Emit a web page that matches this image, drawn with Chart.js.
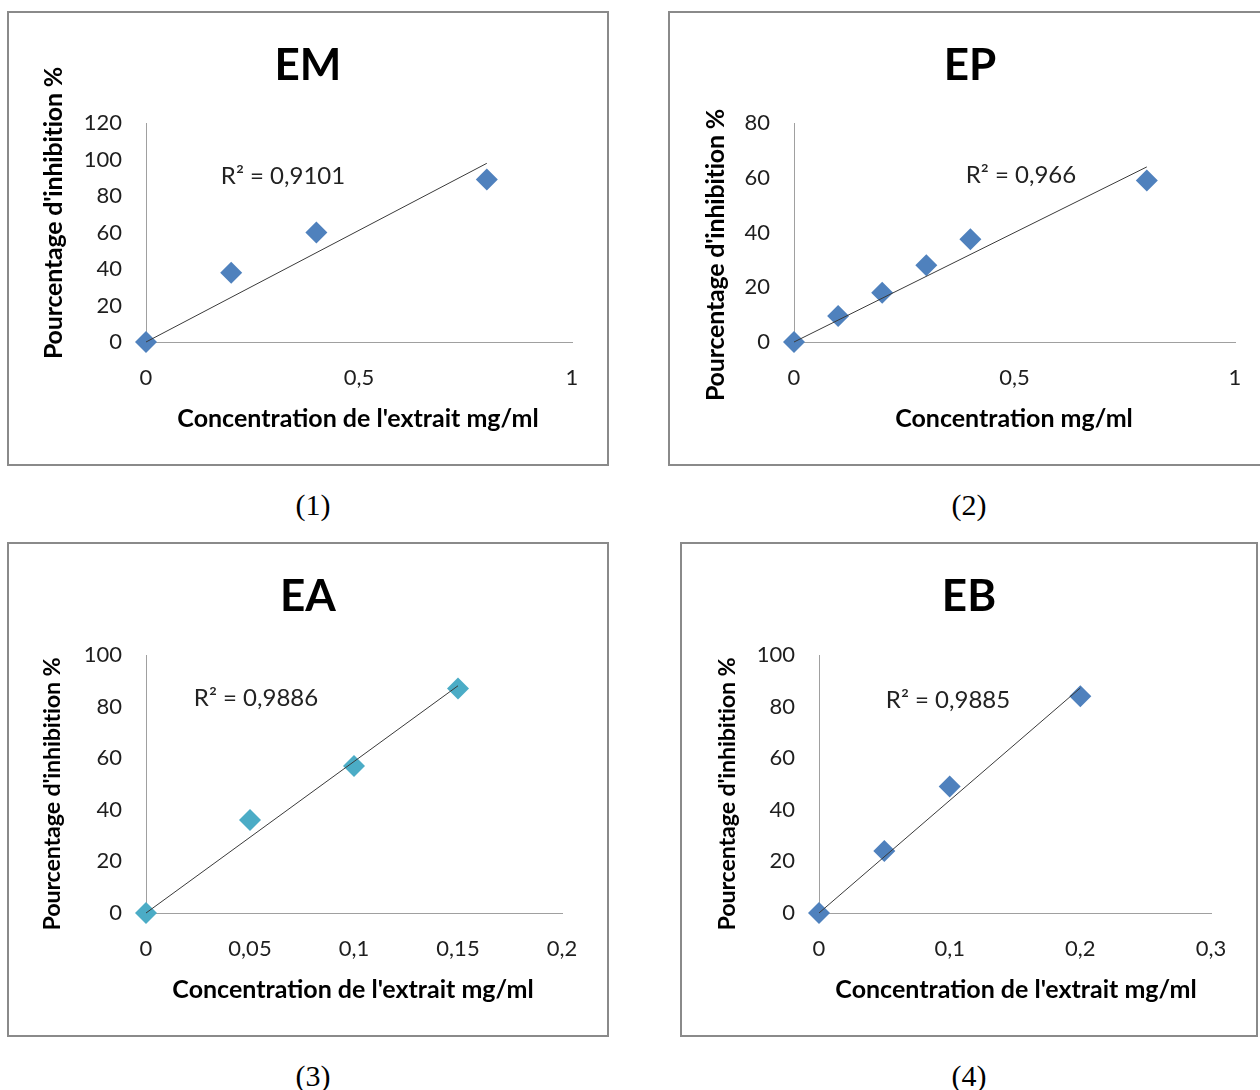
<!DOCTYPE html>
<html><head><meta charset="utf-8">
<script src="https://cdn.jsdelivr.net/npm/chart.js@4.4.0/dist/chart.umd.min.js"></script>
<style>
html,body{margin:0;padding:0;background:#fff;width:1260px;height:1090px;overflow:hidden;position:relative;font-family:Lato,sans-serif;}
.box{position:absolute;border:2px solid #8a8a8a;box-sizing:border-box;pointer-events:none;}
canvas{position:absolute;}
.t{position:absolute;white-space:nowrap;transform:translate(-50%,-50%);color:#000;line-height:1;}
.title{font-weight:bold;font-size:44px;}
.xt{font-weight:bold;font-size:25px;}
.yt{font-weight:bold;font-size:25px;letter-spacing:-0.2px;transform:translate(-50%,-50%) rotate(-90deg);}
.r2{font-size:24px;color:#222;}
.cap{font-family:"Liberation Serif",serif;font-size:30px;}
</style></head><body>
<script>
// ---- data ----
const emX = [0, 0.2, 0.4, 0.8];
const emY = [0, 38, 60, 89];
const epX = [0, 0.1, 0.2, 0.3, 0.4, 0.8];
const epY = [0, 9.5, 18, 28, 37.5, 59];
const eaX = [0, 0.05, 0.1, 0.15];
const eaY = [0, 36, 57, 87];
const ebX = [0, 0.05, 0.1, 0.2];
const ebY = [0, 24, 49, 84];

const emXTicks = [0, 0.5, 1];
const emYTicks = [0, 20, 40, 60, 80, 100, 120];
const epXTicks = [0, 0.5, 1];
const epYTicks = [0, 20, 40, 60, 80];
const eaXTicks = [0, 0.05, 0.1, 0.15, 0.2];
const eaYTicks = [0, 20, 40, 60, 80, 100];
const ebXTicks = [0, 0.1, 0.2, 0.3];
const ebYTicks = [0, 20, 40, 60, 80, 100];

const titles = ['EM', 'EP', 'EA', 'EB'];
const r2Labels = ['R² = 0,9101', 'R² = 0,966', 'R² = 0,9886', 'R² = 0,9885'];
const xTitles = ["Concentration de l'extrait mg/ml", 'Concentration mg/ml', "Concentration de l'extrait mg/ml", "Concentration de l'extrait mg/ml"];
const yTitle = "Pourcentage d'inhibition %";
const captions = ['(1)', '(2)', '(3)', '(4)'];

// ---- layout (page pixels) ----
const panels = [
  {xs: emX, ys: emY, xt: emXTicks, yt: emYTicks, color: '#4F81BD',
   box: [7, 11, 602, 455], area: [146, 123, 572, 342],
   title: [308, 63], r2: [283, 175], xTitle: [358, 417], yTitle: [52, 213, 25], cap: [313, 505]},
  {xs: epX, ys: epY, xt: epXTicks, yt: epYTicks, color: '#4F81BD',
   box: [668, 11, 600, 455], area: [794, 123, 1235, 342],
   title: [970, 63], r2: [1021, 174], xTitle: [1014, 417], yTitle: [714, 255, 25], cap: [969, 505]},
  {xs: eaX, ys: eaY, xt: eaXTicks, yt: eaYTicks, color: '#4BACC6',
   box: [7, 542, 602, 495], area: [146, 655, 562, 913],
   title: [308, 594], r2: [256, 697], xTitle: [353, 988], yTitle: [52, 794, 23.4], cap: [313, 1076]},
  {xs: ebX, ys: ebY, xt: ebXTicks, yt: ebYTicks, color: '#4F81BD',
   box: [680, 542, 578, 495], area: [819, 655, 1211, 913],
   title: [969, 594], r2: [948, 699], xTitle: [1016, 988], yTitle: [727, 794, 23.4], cap: [969, 1076]}
];

function addText(cls, txt, x, y, extra) {
  const d = document.createElement('div');
  d.className = 't ' + cls;
  d.textContent = txt;
  d.style.left = x + 'px';
  d.style.top = y + 'px';
  if (extra) Object.assign(d.style, extra);
  document.body.appendChild(d);
}

const fmt = v => String(+v.toFixed(4)).replace('.', ',');

panels.forEach((p, i) => {
  const [bx, by, bw, bh] = p.box;
  const [al, at, ar, ab] = p.area;
  const cv = document.createElement('canvas');
  cv.width = bw; cv.height = bh;
  cv.style.left = bx + 'px'; cv.style.top = by + 'px';
  cv.style.width = bw + 'px'; cv.style.height = bh + 'px';
  document.body.appendChild(cv);

  const pts = p.xs.map((x, k) => ({x, y: p.ys[k]}));
  // least-squares trend line forced through the origin
  let sxy = 0, sxx = 0;
  p.xs.forEach((x, k) => { sxy += x * p.ys[k]; sxx += x * x; });
  const slope = sxy / sxx;
  const xMaxData = Math.max(...p.xs);
  const trend = [{x: 0, y: 0}, {x: xMaxData, y: slope * xMaxData}];

  const tickFont = {family: 'Lato', size: 22};
  new Chart(cv, {
    type: 'scatter',
    data: {datasets: [
      {data: trend, showLine: true, pointRadius: 0, borderColor: '#3a3a3a', borderWidth: 1, order: 0, clip: false},
      {data: pts, pointStyle: 'rectRot', pointRadius: 11, pointHoverRadius: 11,
       backgroundColor: p.color, borderColor: p.color, borderWidth: 0, order: 1, clip: false}
    ]},
    options: {
      responsive: false, animation: false, devicePixelRatio: 1,
      layout: {padding: {left: 0, top: at - by, right: (bx + bw) - ar, bottom: 0}},
      plugins: {legend: {display: false}, tooltip: {enabled: false}},
      scales: {
        x: {
          type: 'linear', min: p.xt[0], max: p.xt[p.xt.length - 1],
          grid: {display: false, drawTicks: false},
          border: {display: true, color: '#a0a0a0', width: 1},
          ticks: {font: tickFont, color: '#1e1e1e', padding: 23, maxRotation: 0, callback: v => fmt(v)},
          afterBuildTicks: s => { s.ticks = p.xt.map(v => ({value: v})); },
          afterFit: s => { s.height = (by + bh) - ab; }
        },
        y: {
          type: 'linear', min: p.yt[0], max: p.yt[p.yt.length - 1],
          grid: {display: false, drawTicks: false},
          border: {display: true, color: '#a0a0a0', width: 1},
          ticks: {font: tickFont, color: '#1e1e1e', padding: 24, callback: v => fmt(v)},
          afterBuildTicks: s => { s.ticks = p.yt.map(v => ({value: v})); },
          afterFit: s => { s.width = al - bx; }
        }
      }
    }
  });

  const b = document.createElement('div');
  b.className = 'box';
  b.style.left = bx + 'px'; b.style.top = by + 'px';
  b.style.width = bw + 'px'; b.style.height = bh + 'px';
  document.body.appendChild(b);

  addText('title', titles[i], p.title[0], p.title[1]);
  addText('r2', r2Labels[i], p.r2[0], p.r2[1]);
  addText('xt', xTitles[i], p.xTitle[0], p.xTitle[1]);
  addText('yt', yTitle, p.yTitle[0], p.yTitle[1], {fontSize: p.yTitle[2] + 'px'});
  addText('cap', captions[i], p.cap[0], p.cap[1]);
});
</script>
</body></html>
